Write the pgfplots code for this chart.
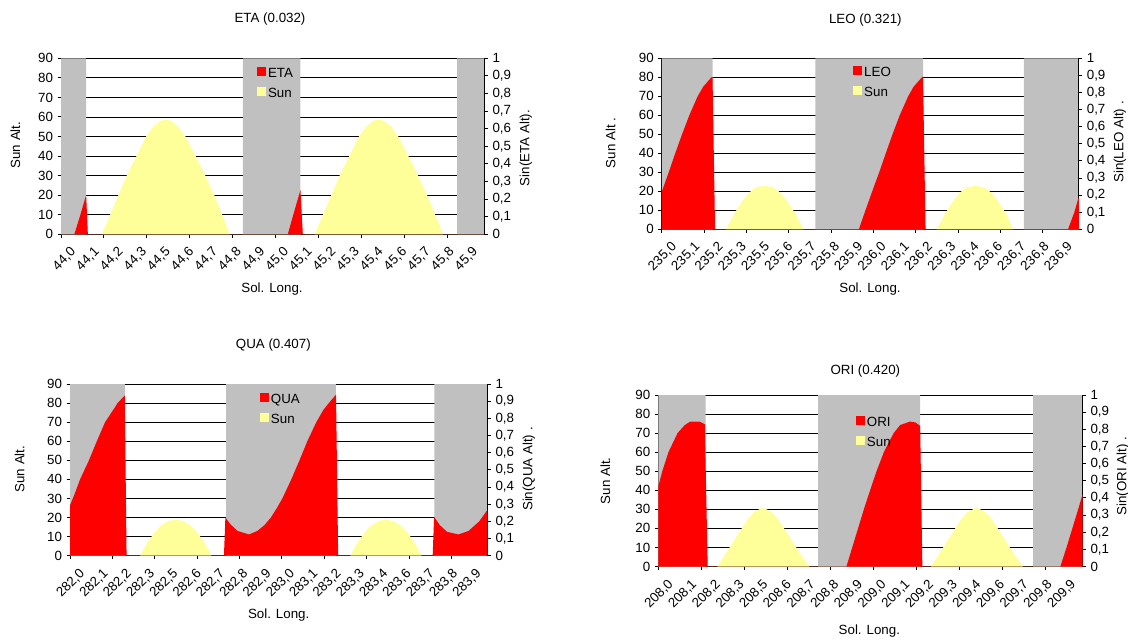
\documentclass[border=0pt]{standalone}
\usepackage{fontspec}
\setmainfont{Liberation Sans}
\usepackage{pgfplots}
\pgfplotsset{compat=1.18}

\definecolor{night}{RGB}{192,192,192}
\definecolor{sunfill}{RGB}{255,255,153}
\definecolor{radiant}{RGB}{255,0,0}

% Left axis: sun altitude (degrees), night shading and the day-time sun curve.
% Right axis: sine of the radiant altitude, drawn only while it is night.
\pgfplotsset{
  altaxis/.style={
    scale only axis, anchor=south west,
    xmin=0, xmax=197, ymin=0, ymax=90,
    axis x line*=bottom, axis y line*=left,
    axis line style={black, line width=0.75pt},
    tick style={black, line width=0.75pt},
    tick align=outside, major tick length=2.5pt,
    ytick={0,10,...,90},
    ymajorgrids, grid style={black, line width=0.7pt},
    xtick={0,20,...,180}, xticklabels={},
    extra x ticks={0,11,...,187},
    extra x tick style={major tick length=0pt,
      tick label style={rotate=45, anchor=east, inner sep=0pt, xshift=-1.5pt, yshift=-15pt}},
    tick label style={font=\fontsize{10}{12}\selectfont},
    /pgf/number format/assume math mode=true,
  },
  sinaxis/.style={
    scale only axis, anchor=south west,
    xmin=0, xmax=197, ymin=0, ymax=1,
    axis x line=none, axis y line*=right,
    axis line style={black, line width=0.75pt},
    tick style={black, line width=0.75pt},
    tick align=outside, major tick length=2.5pt,
    ytick={0,0.1,0.2,0.3,0.4,0.5,0.6,0.7,0.8,0.9,1},
    yticklabel style={/pgf/number format/use comma, /pgf/number format/fixed},
    tick label style={font=\fontsize{10}{12}\selectfont},
    /pgf/number format/assume math mode=true,
    legend style={draw=none, fill=none, anchor=north west, inner sep=0pt, outer sep=0pt,
      font=\fontsize{10}{12}\selectfont, row sep=5pt, column sep=1.5pt,
      nodes={inner sep=0pt, text height=7.5pt, text depth=2pt}},
    legend cell align=left,
    legend image code/.code={\fill[#1] (0pt,-1.5pt) rectangle (6.75pt,5.25pt);},
  },
}

\begin{document}
\begin{tikzpicture}[every node/.style={font=\fontsize{10}{12}\selectfont}]
\useasboundingbox (0,0) rectangle (846pt,-479.25pt);

% ---------------- ETA ----------------
\begin{axis}[altaxis, at={(45.75pt,-175.73pt)}, width=317.6pt, height=132pt,
  extra x tick labels={{44,0},{44,1},{44,2},{44,3},{44,5},{44,6},{44,7},{44,8},{44,9},
    {45,0},{45,1},{45,2},{45,3},{45,4},{45,6},{45,7},{45,8},{45,9}}]
\addplot[fill=night, draw=none] coordinates {
  (0,90) (11.7,90) (11.7,0) (84.6,0) (84.6,90) (111.4,90) (111.4,0) (184.3,0) (184.3,90) (197,90)} \closedcycle;
\addplot[fill=sunfill, draw=none] coordinates {
  (0,0) (19.0,0) (22.9,10) (26.7,20) (30.6,30) (35.1,40) (39.6,50) (42.9,55) (46.3,58) (48.8,58.7)
  (51.3,58) (54.6,55) (57.9,50) (62.6,40) (67.1,30) (71.3,20) (75.0,10) (78.5,0)
  (118.0,0) (121.9,10) (125.7,20) (129.6,30) (134.1,40) (138.6,50) (141.9,55) (145.3,58) (147.7,58.7)
  (150.2,58) (153.6,55) (156.9,50) (161.6,40) (166.1,30) (170.3,20) (174.0,10) (177.8,0) (197,0)} \closedcycle;
\end{axis}
\begin{axis}[sinaxis, at={(45.75pt,-175.73pt)}, width=317.6pt, height=132pt,
  legend style={at={(0.463,1)}, yshift=-6.5pt}]
\addplot[fill=radiant, draw=none] coordinates {
  (0,0) (6.2,0) (9.0,0.11) (11.7,0.223) (12.5,0) (105.5,0) (108.5,0.13) (111.4,0.252) (112.5,0) (197,0)} \closedcycle;
\addlegendentry{ETA}
\addlegendimage{fill=sunfill, draw=none}
\addlegendentry{Sun}
\end{axis}

% ---------------- LEO ----------------
\begin{axis}[altaxis, at={(496.35pt,-171.98pt)}, width=312.75pt, height=128.25pt,
  extra x tick labels={{235,0},{235,1},{235,2},{235,3},{235,5},{235,6},{235,7},{235,8},{235,9},
    {236,0},{236,1},{236,2},{236,3},{236,4},{236,6},{236,7},{236,8},{236,9}}]
\addplot[fill=night, draw=none] coordinates {
  (0,90) (24.0,90) (24.0,0) (72.6,0) (72.6,90) (123.4,90) (123.4,0) (171.0,0) (171.0,90) (197,90)} \closedcycle;
\addplot[fill=sunfill, draw=none] coordinates {
  (0,0) (30.3,0) (34.1,8) (37.5,14) (40.9,19) (44.3,22) (48.6,23) (52.9,22) (56.3,19) (59.7,14) (63.2,8) (66.9,0)
  (129.9,0) (133.7,8) (137.1,14) (140.5,19) (143.9,22) (148.2,23) (152.5,22) (155.9,19) (159.3,14) (162.8,8) (165.8,0)
  (197,0)} \closedcycle;
\end{axis}
\begin{axis}[sinaxis, at={(496.35pt,-171.98pt)}, width=312.75pt, height=128.25pt,
  legend style={at={(0.459,1)}, yshift=-6pt}]
\addplot[fill=radiant, draw=none] coordinates {
  (0,0.22) (3.25,0.333) (6.33,0.444) (9.58,0.556) (13.0,0.667) (16.94,0.778) (19.51,0.833) (23.45,0.889)
  (23.96,0.89) (25.16,0)
  (93.1,0) (96.2,0.111) (99.4,0.222) (102.7,0.333) (105.8,0.444) (109.0,0.556) (112.4,0.667) (116.4,0.778)
  (118.9,0.833) (122.9,0.889) (123.4,0.894) (124.6,0)
  (191.9,0) (194.9,0.1) (197,0.19)} \closedcycle;
\addlegendentry{LEO}
\addlegendimage{fill=sunfill, draw=none}
\addlegendentry{Sun}
\end{axis}

% ---------------- QUA ----------------
\begin{axis}[altaxis, at={(52.5pt,-416.78pt)}, width=313.1pt, height=128.78pt,
  extra x tick labels={{282,0},{282,1},{282,2},{282,3},{282,5},{282,6},{282,7},{282,8},{282,9},
    {283,0},{283,1},{283,2},{283,3},{283,4},{283,6},{283,7},{283,8},{283,9}}]
\addplot[fill=night, draw=none] coordinates {
  (0,90) (25.85,90) (25.85,0) (73.7,0) (73.7,90) (125.5,90) (125.5,0) (172.0,0) (172.0,90) (197,90)} \closedcycle;
\addplot[fill=sunfill, draw=none] coordinates {
  (0,0) (33.1,0) (36.0,6) (39.4,11.5) (42.7,15.5) (46.1,18) (50.0,19) (53.7,18) (57.1,15.5) (60.5,11.5) (63.9,6) (66.7,0)
  (132.3,0) (135.2,6) (138.5,11.5) (141.9,15.5) (145.3,18) (149.2,19) (152.9,18) (156.3,15.5) (159.7,11.5) (163.0,6) (165.9,0)
  (197,0)} \closedcycle;
\end{axis}
\begin{axis}[sinaxis, at={(52.5pt,-416.78pt)}, width=313.1pt, height=128.78pt,
  legend style={at={(0.455,1)}, yshift=-6.7pt}]
\addplot[fill=radiant, draw=none] coordinates {
  (0,0.293) (2.2,0.36) (4.73,0.444) (8.95,0.556) (12.67,0.667) (16.56,0.778) (20.44,0.85) (22.47,0.889)
  (25.85,0.933) (26.69,0)
  (72.65,0) (73.32,0.223) (75.69,0.183) (79.07,0.144) (84.48,0.124) (88.36,0.144) (91.74,0.178) (94.78,0.222)
  (97.65,0.278) (100.19,0.333) (104.41,0.444) (108.3,0.556) (112.01,0.667) (116.24,0.778) (119.62,0.85)
  (122.15,0.889) (125.53,0.938) (126.54,0)
  (171.14,0) (171.82,0.226) (174.52,0.178) (177.9,0.139) (183.31,0.124) (188.04,0.144) (193.11,0.2) (197,0.267)} \closedcycle;
\addlegendentry{QUA}
\addlegendimage{fill=sunfill, draw=none}
\addlegendentry{Sun}
\end{axis}

% ---------------- ORI ----------------
\begin{axis}[altaxis, at={(493.73pt,-424.88pt)}, width=318.15pt, height=128.63pt,
  extra x tick labels={{208,0},{208,1},{208,2},{208,3},{208,5},{208,6},{208,7},{208,8},{208,9},
    {209,0},{209,1},{209,2},{209,3},{209,4},{209,6},{209,7},{209,8},{209,9}}]
\addplot[fill=night, draw=none] coordinates {
  (0,90) (21.93,90) (21.93,0) (74.21,0) (74.21,90) (121.6,90) (121.6,0) (174.06,0) (174.06,90) (197,90)} \closedcycle;
\addplot[fill=sunfill, draw=none] coordinates {
  (0,0) (27.49,0) (30.86,6) (34.24,12) (37.61,18) (40.98,24) (44.36,28.5) (48.57,31) (52.79,28.5) (56.16,24)
  (59.54,18) (62.91,12) (66.28,6) (70.16,0)
  (126.66,0) (130.04,6) (133.41,12) (136.78,18) (140.15,24) (143.53,28.5) (147.74,31) (151.96,28.5) (155.33,24)
  (158.71,18) (162.08,12) (165.45,6) (169.33,0) (197,0)} \closedcycle;
\end{axis}
\begin{axis}[sinaxis, at={(493.73pt,-424.88pt)}, width=318.15pt, height=128.63pt,
  legend style={at={(0.466,1)}, yshift=-15.7pt}]
\addplot[fill=radiant, draw=none] coordinates {
  (0,0.466) (1.86,0.556) (4.72,0.667) (8.94,0.778) (12.31,0.825) (14.84,0.845) (19.06,0.845) (21.59,0.83) (22.94,0)
  (87.37,0) (90.06,0.111) (92.76,0.222) (95.46,0.333) (98.33,0.444) (101.36,0.556) (104.74,0.667) (109.29,0.778)
  (112.33,0.825) (116.88,0.845) (119.41,0.84) (121.6,0.82) (122.62,0)
  (186.71,0) (189.58,0.111) (192.27,0.222) (194.97,0.333) (197,0.42)} \closedcycle;
\addlegendentry{ORI}
\addlegendimage{fill=sunfill, draw=none}
\addlegendentry{Sun}
\end{axis}

% ---------------- titles and axis labels ----------------
\node at (202.5pt,-14.25pt) {ETA (0.032)};
\node at (649pt,-15pt) {LEO (0.321)};
\node at (205pt,-258.75pt) {QUA (0.407)};
\node at (649pt,-278pt) {ORI (0.420)};

\node[rotate=90] at (11.55pt,-108.75pt) {Sun Alt.};
\node[rotate=90] at (458pt,-107.25pt) {Sun Alt .};
\node[rotate=90] at (14.7pt,-351.75pt) {Sun Alt.};
\node[rotate=90] at (454pt,-360.5pt) {Sun Alt.};

\node[rotate=90] at (394.5pt,-111pt) {Sin(ETA Alt).};
\node[rotate=90] at (840pt,-106.5pt) {Sin(LEO Alt) .};
\node[rotate=90] at (396.7pt,-351.75pt) {Sin(QUA Alt) .};
\node[rotate=90] at (842.25pt,-357pt) {Sin(ORI Alt) .};

\node at (204pt,-216.75pt) {Sol. Long.};
\node at (652.5pt,-217pt) {Sol. Long.};
\node at (209pt,-461.25pt) {Sol. Long.};
\node at (652pt,-473.25pt) {Sol. Long.};
\end{tikzpicture}
\end{document}
